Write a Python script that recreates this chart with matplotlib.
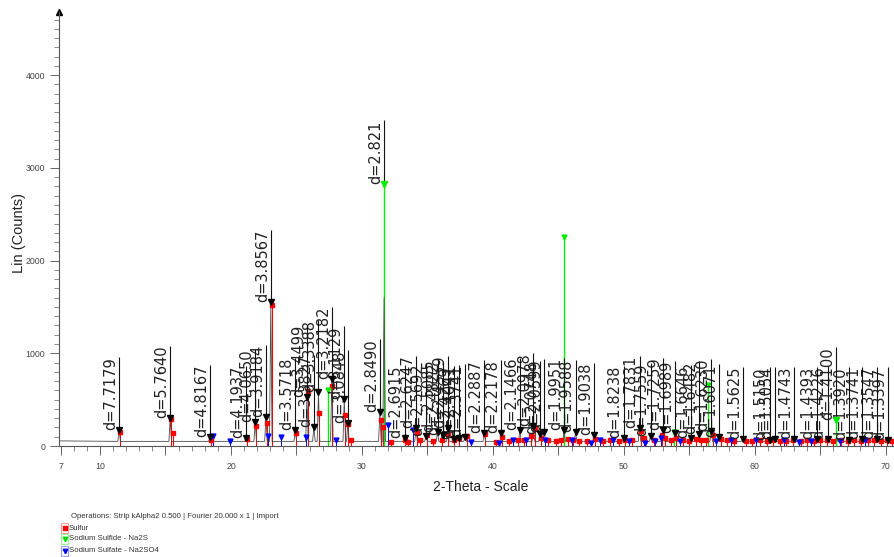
import matplotlib
matplotlib.use("Agg")
import matplotlib.pyplot as plt
import matplotlib.transforms as mtransforms
from matplotlib.lines import Line2D
from matplotlib.patches import Rectangle

plt.rcParams['font.family'] = ['Liberation Sans', 'DejaVu Sans']

# peaks picked on the scan: 2-theta, d label, counts at the marker
peak_2theta = [11.46, 15.36, 18.40, 21.17, 21.85, 22.67, 23.04, 24.91, 25.80, 26.33,
               26.68, 27.70, 28.65, 28.92, 31.37, 31.69, 33.26, 34.13, 34.89, 35.77,
               36.16, 36.56, 37.01, 37.38, 37.87, 39.34, 40.65, 42.06, 43.09, 43.59,
               43.92, 45.43, 46.31, 47.73, 49.97, 51.19, 52.04, 53.02, 53.93, 55.13,
               55.73, 56.67, 57.29, 59.08, 61.12, 61.55, 63.00, 64.71, 65.56, 66.22,
               67.20, 68.19, 69.31, 70.19]
peak_label = ["d=7.7179", "d=5.7640", "d=4.8167", "d=4.1937", "d=4.0650", "d=3.9184",
              "d=3.8567", "d=3.5718", "d=3.4499", "d=3.3827", "d=3.3388", "d=3.2182",
              "d=3.1129", "d=3.0848", "d=2.8490", "d=2.821", "d=2.6915", "d=2.6247",
              "d=2.5692", "d=2.5085", "d=2.4822", "d=2.4559", "d=2.4269", "d=2.4041",
              "d=2.3741", "d=2.2887", "d=2.2178", "d=2.1466", "d=2.0978", "d=2.0748",
              "d=2.0599", "d=1.9951", "d=1.9588", "d=1.9038", "d=1.8238", "d=1.7831",
              "d=1.7559", "d=1.7259", "d=1.6989", "d=1.6646", "d=1.6482", "d=1.6230",
              "d=1.6071", "d=1.5625", "d=1.5150", "d=1.5054", "d=1.4743", "d=1.4393",
              "d=1.4226", "d=1.4100", "d=1.3920", "d=1.3741", "d=1.3547", "d=1.3397"]
peak_counts = [175, 300, 95, 85, 260, 310, 1550, 170, 530, 205,
               580, 720, 510, 250, 370, 2830, 90, 190, 110, 150,
               120, 190, 80, 90, 100, 140, 140, 170, 220, 130,
               150, 170, 150, 120, 85, 190, 110, 170, 140, 90,
               130, 160, 100, 75, 65, 75, 75, 75, 80, 280,
               65, 75, 75, 70]
# where the marker sits on the Na2S stick, the scan itself is lower
measured_counts = {"d=2.821": 1600, "d=1.4100": 90}

sulfur_2theta = [11.52, 15.42, 15.60, 18.50, 21.20, 21.90, 22.75, 23.10, 24.95, 25.88,
                 26.72, 27.75, 28.68, 28.95, 29.20, 31.45, 31.60, 32.20, 33.30, 33.50,
                 34.20, 34.40, 35.00, 35.40, 36.10, 36.60, 37.00, 37.40, 38.00, 39.40,
                 40.20, 40.70, 41.20, 41.90, 42.40, 42.90, 43.20, 43.70, 44.20, 44.80,
                 45.20, 45.70, 46.10, 46.60, 47.20, 47.80, 48.40, 48.90, 49.60, 50.10,
                 50.60, 51.30, 51.50, 52.30, 52.90, 53.10, 53.60, 54.00, 54.50, 55.00,
                 55.50, 55.90, 56.30, 56.80, 57.40, 57.90, 58.40, 59.30, 59.80, 60.40,
                 60.90, 61.40, 61.90, 62.40, 62.90, 63.50, 64.00, 64.50, 65.00, 65.50,
                 66.00, 66.60, 67.10, 67.60, 68.10, 68.60, 69.10, 69.60, 70.10, 70.50]
sulfur_counts = [150, 290, 140, 70, 80, 215, 250, 1520, 140, 590,
                 355, 650, 335, 240, 60, 280, 200, 40, 60, 40,
                 150, 70, 120, 50, 60, 130, 60, 90, 110, 130,
                 40, 100, 50, 60, 70, 110, 190, 90, 60, 50,
                 70, 80, 60, 50, 50, 80, 50, 60, 50, 70,
                 60, 160, 90, 60, 120, 90, 60, 90, 60, 50,
                 80, 70, 60, 120, 80, 60, 50, 50, 50, 60,
                 50, 60, 50, 50, 60, 50, 60, 50, 70, 60,
                 50, 60, 50, 60, 50, 60, 60, 50, 60, 50]

na2s_2theta = [27.40, 31.69, 45.43, 53.80, 56.45, 66.22]
na2s_counts = [600, 2830, 2250, 150, 660, 280]

na2so4_2theta = [18.60, 19.90, 22.80, 23.80, 25.75, 28.00, 32.00, 33.90, 38.30, 40.50,
                 41.50, 42.50, 44.00, 46.00, 47.50, 48.20, 49.20, 50.40, 51.60, 52.40,
                 52.80, 54.30, 57.00, 58.20, 60.10, 62.20, 63.40, 64.30, 66.50, 68.40]
na2so4_counts = [110, 50, 110, 100, 100, 60, 230, 170, 40, 30,
                 60, 70, 60, 70, 30, 70, 60, 50, 30, 50,
                 90, 50, 50, 70, 60, 60, 40, 50, 50, 60]

background = 50
x_ticks = [7, 10, 15, 20, 25, 30, 35, 40, 45, 50, 55, 60, 65, 70]
x_tick_labels = ["7", "10", "", "20", "", "30", "", "40", "", "50", "", "60", "", "70"]
y_ticks = [0, 1000, 2000, 3000, 4000]

W, H = 894, 557
fig = plt.figure(figsize=(W / 100, H / 100), dpi=100)
ax = fig.add_axes([59 / W, (H - 446) / H, (W - 59) / W, (446 - 12) / H])
ax.set_xlim(6.87, 70.62)
ax.set_ylim(0, 4682)

# reference sticks
ax.vlines(sulfur_2theta, 0, sulfur_counts, color='red', lw=0.8, zorder=2)
ax.plot(sulfur_2theta, sulfur_counts, 's', color='red', ms=3.2, zorder=4)
ax.vlines(na2so4_2theta, 0, na2so4_counts, color='blue', lw=0.7, zorder=2)
ax.plot(na2so4_2theta, na2so4_counts, 'v', color='blue', ms=3.5, zorder=4)
ax.vlines(na2s_2theta, 0, na2s_counts, color='#00ee00', lw=1.0, zorder=2)
ax.plot(na2s_2theta, na2s_counts, 'v', color='#00ee00', ms=3.5, zorder=4)

# measured scan
tx, ty = [6.87], [background + 5]
for x, lab, c in sorted(zip(peak_2theta, peak_label, peak_counts)):
    tx += [x - 0.1, x, x + 0.1]
    ty += [background, measured_counts.get(lab, c), background]
tx.append(70.62)
ty.append(background)
ax.plot(tx, ty, color='#4a4a4a', lw=0.6, zorder=3)

# d-spacing labels, line runs from the marker up to the end of the text
shift = mtransforms.offset_copy(ax.transData, fig=fig, x=-1, y=0, units='dots')
texts = []
for x, lab, c in zip(peak_2theta, peak_label, peak_counts):
    t = ax.text(x, c, lab, transform=shift, rotation=90, ha='right', va='bottom',
                fontsize=10.5, family='DejaVu Sans', color='#222222', zorder=5)
    texts.append(t)
fig.canvas.draw()
inv = ax.transData.inverted()
for x, c, t in zip(peak_2theta, peak_counts, texts):
    bb = t.get_window_extent()
    top = inv.transform((0, bb.y1))[1]
    ax.vlines(x, c, top, color='#111111', lw=0.8, zorder=5)
for x, lab, c in zip(peak_2theta, peak_label, peak_counts):
    col = '#00ee00' if lab in measured_counts else 'black'
    ax.plot(x, c, 'v', color=col, ms=4.5, zorder=6)

# axes styling
for s in ['top', 'right']:
    ax.spines[s].set_visible(False)
for s in ['left', 'bottom']:
    ax.spines[s].set_color('#555555')
    ax.spines[s].set_linewidth(0.8)
ax.set_xticks(x_ticks)
ax.set_xticklabels(x_tick_labels)
ax.set_xticks(range(7, 71), minor=True)
ax.set_yticks(y_ticks)
ax.set_yticks(range(0, 4700, 100), minor=True)
ax.tick_params(axis='both', which='major', length=6.5, width=0.7, color='#666666',
               labelsize=6.3, labelcolor='#444444')
ax.tick_params(axis='both', which='minor', length=3.5, width=0.6, color='#777777')
ax.tick_params(axis='x', which='major', pad=5)
ax.tick_params(axis='y', which='major', pad=3.5)
ax.plot([0], [1], '^', color='black', ms=4, transform=ax.transAxes, clip_on=False)

fig.text(19 / W, 1 - 233 / H, "Lin (Counts)", rotation=90, ha='center', va='center',
         fontsize=10.5, color='#222222')
fig.text(481 / W, 1 - 487 / H, "2-Theta - Scale", ha='center', va='center',
         fontsize=10, color='#222222')

# footer with operations and phase legend
fig.text(71 / W, 1 - 517 / H, "Operations: Strip kAlpha2 0.500 | Fourier 20.000 x 1 | Import",
         ha='left', va='center', fontsize=5.6, color='#333333')
legend_rows = [("Sulfur", 's', 'red', '#ff9999', 528),
               ("Sodium Sulfide - Na2S", 'v', '#00dd00', '#99ee99', 539),
               ("Sodium Sulfate - Na2SO4", 'v', 'blue', '#9999ff', 551)]
for name, mk, col, edge, yp in legend_rows:
    fig.patches.append(Rectangle((61 / W, 1 - (yp + 5) / H), 7 / W, 10 / H,
                                 transform=fig.transFigure, facecolor='white',
                                 edgecolor=edge, lw=0.8))
    fig.add_artist(Line2D([64.5 / W], [1 - yp / H], marker=mk, color=col, ms=3.2,
                          transform=fig.transFigure))
    fig.text(69 / W, 1 - yp / H, name, ha='left', va='center', fontsize=5.6,
             color='#333333')

fig.savefig("out.png", dpi=100)
